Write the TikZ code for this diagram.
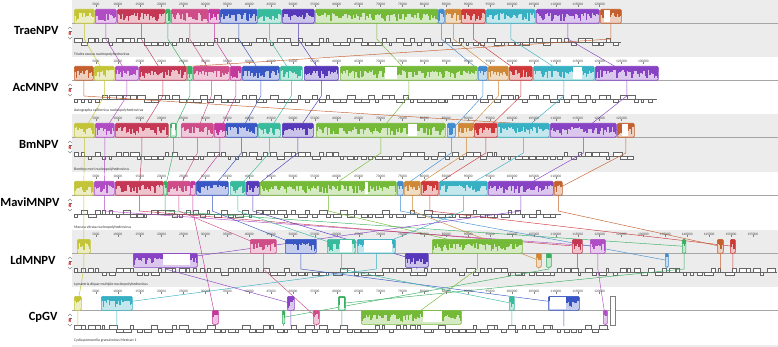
\documentclass[tikz,border=0pt]{standalone}
\usepackage{fontspec}
\setmainfont{Carlito}
\pgfdeclarelayer{back}
\pgfdeclarelayer{links}
\pgfsetlayers{back,links,main}
\definecolor{cyel}{RGB}{196,196,56}
\definecolor{cpur}{RGB}{176,76,196}
\definecolor{ccrim}{RGB}{196,56,86}
\definecolor{cgrn}{RGB}{56,176,96}
\definecolor{cpnk}{RGB}{206,76,136}
\definecolor{cmag}{RGB}{196,56,156}
\definecolor{cblu}{RGB}{56,86,196}
\definecolor{ctea}{RGB}{56,186,156}
\definecolor{cvio}{RGB}{86,56,186}
\definecolor{clgr}{RGB}{116,186,56}
\definecolor{clbl}{RGB}{66,140,206}
\definecolor{corg}{RGB}{206,136,56}
\definecolor{cred}{RGB}{206,56,56}
\definecolor{ccya}{RGB}{56,176,196}
\definecolor{cppl}{RGB}{136,66,196}
\definecolor{cbrn}{RGB}{196,96,46}
\definecolor{panelgray}{RGB}{236,236,236}
\begin{document}
\begin{tikzpicture}[x=1pt,y=-1pt]
  \tikzset{lcb/.style={draw=#1, fill=#1!30, line width=0.6pt, rounded corners=1.2pt,
      inner sep=0pt, minimum height=14pt, anchor=north west,
      path picture={\foreach \i in {0,1.5,...,\w}
        \fill[#1, sharp corners] ([xshift=\i]path picture bounding box.north west) rectangle ++(1.6,{4+8*rnd^1.5});}}}
  \tikzset{link/.style={draw=#1, line width=0.45pt}}
  \tikzset{gene/.style={draw=black!60, fill=white, line width=0.3pt}}
  \tikzset{midline/.style={draw=black!35, line width=0.4pt}}
  \tikzset{genome/.style={anchor=east, font=\bfseries\fontsize{12.5}{14}\selectfont}}
  \tikzset{species/.style={anchor=west, inner sep=0pt, text=black!80, font=\fontsize{3.8}{4}\selectfont}}
  \tikzset{tick/.style={inner sep=0pt, text=black!75, font=\fontsize{3.5}{4}\selectfont}}
  \tikzset{ctrl/.style={draw=black!45, line width=0.5pt}}
  \pgfmathsetseed{17}
  \useasboundingbox (0,0) rectangle (778,347);

  % panels, centre lines, gene rows
  \begin{pgfonlayer}{back}
    \fill[panelgray] (72,0) rectangle (778,57);
    \fill[panelgray] (72,114) rectangle (778,172);
    \fill[panelgray] (72,230) rectangle (778,287);
    \fill[panelgray] (72,345) rectangle (778,347);
    \foreach \t in {9,66,123,181,239,296}
      \draw[midline] (72,\t+14) -- (778,\t+14);
    \foreach \t/\e in {9/616, 66/652, 123/628, 181/556, 239/772, 296/604} {
      \draw[gene] (74,\t+33) -- (\e+5,\t+33);
      \foreach \x in {74,81,...,\e} {
        \pgfmathsetmacro\gw{2+7*rnd}
        \pgfmathsetmacro\gs{rnd>0.5 ? 3.5 : -3.5}
        \draw[gene] (\x,\t+33) rectangle ++(\gw,\gs);
      }
    }
  \end{pgfonlayer}

  % rulers
  \foreach \t/\n in {9/24, 66/26, 123/25, 181/22, 239/31, 296/24}
    \foreach \k in {1,...,\n} {
      \node[tick] (tk\t-\k) at (74+21.9*\k,\t-5) {\the\numexpr 5000*\k\relax};
      \draw[black!50, line width=0.3pt] (tk\t-\k.south) -- ++(0,2);
    }

  % genome names and strand marks
  \node[genome] (trae) at (62,30) {TraeNPV};
  \node[genome] (acm) at (62,87) {AcMNPV};
  \node[genome] (bm) at (62,144) {BmNPV};
  \node[genome] (mavi) at (63,202) {MaviMNPV};
  \node[genome] (ldm) at (59,260) {LdMNPV};
  \node[genome] (cpgv) at (61,317) {CpGV};
  \foreach \t in {9,66,123,181,239,296} {
    \draw[ctrl] (68,\t+20) -- (70,\t+18) -- (72,\t+20);
    \draw[black!55, line width=0.6pt] (68.5,\t+22) -- (71.5,\t+22);
    \node[inner sep=0pt, text=red!75!black, font=\bfseries\fontsize{5}{5}\selectfont] (rk\t) at (70,\t+25) {R};
    \draw[ctrl] (68,\t+28) -- (70,\t+30) -- (72,\t+28);
  }

  % species
  \node[species] (sp1) at (74,54) {Trioles sexcus nucleopolyhedrovirus};
  \node[species] (sp2) at (74,111) {Autographa californica nucleopolyhedrovirus};
  \node[species] (sp3) at (74,169) {Bombyx mori nucleopolyhedrovirus};
  \node[species] (sp4) at (74,227) {Maruca vitrata nucleopolyhedrovirus};
  \node[species] (sp5) at (74,284) {Lymantria dispar multiple nucleopolyhedrovirus};
  \node[species] (sp6) at (74,341) {Cydia pomonella granulovirus Mexican 1};

  % blocks
  \foreach \x/\w/\col/\n in {74/20/cyel/Y, 95/21/cpur/Pu, 117/48/ccrim/Cr, 165/5/cgrn/G,
      171/37/cpnk/Pk, 208/12/cmag/Mg, 220/37/cblu/Bl, 257/24/ctea/Te, 282/32/cvio/Vi,
      315/123/clgr/Lg, 438/6/clbl/Lb, 445/16/corg/Or, 461/24/cred/Rd, 486/49/ccya/Cy,
      536/63/cppl/Pv, 600/21/cbrn/Br}
    \node[lcb=\col, minimum width=\w] (\n1) at (\x,9) {};
  \foreach \x/\w/\col/\n in {74/19/cbrn/Br, 94/20/cyel/Y, 115/23/cpur/Pu, 139/47/ccrim/Cr,
      187/5/cgrn/G, 193/36/cpnk/Pk, 230/11/cmag/Mg, 242/37/cblu/Bl, 280/22/ctea/Te,
      304/34/cvio/Vi, 340/137/clgr/Lg, 478/9/clbl/Lb, 488/20/corg/Or, 509/23/cred/Rd,
      533/61/ccya/Cy, 595/63/cppl/Pv}
    \node[lcb=\col, minimum width=\w] (\n2) at (\x,66) {};
  \foreach \x/\w/\col/\n in {74/20/cyel/Y, 95/19/cpur/Pu, 115/53/ccrim/Cr, 170/6/cgrn/G,
      181/32/cpnk/Pk, 214/11/cmag/Mg, 225/32/cblu/Bl, 258/22/ctea/Te, 282/31/cvio/Vi,
      316/129/clgr/Lg, 447/8/clbl/Lb, 458/16/corg/Or, 474/23/cred/Rd, 497/52/ccya/Cy,
      550/66/cppl/Pv, 617/17/cbrn/Br}
    \node[lcb=\col, minimum width=\w] (\n3) at (\x,123) {};
  \foreach \x/\w/\col/\n in {74/19/cyel/Y, 94/20/cpur/Pu, 115/48/ccrim/Cr, 163/3.5/cgrn/G,
      167/23/cpnk/Pk, 190/5/cmag/Mg, 196/32/cblu/Bl, 230/15/ctea/Te, 246/13/cvio/Vi,
      260/136/clgr/Lg, 397/6/clbl/Lb, 404/16/corg/Or, 421/17/cred/Rd, 439/48/ccya/Cy,
      488/65/cppl/Pv, 554/8/cbrn/Br}
    \node[lcb=\col, minimum width=\w] (\n4) at (\x,181) {};
  \foreach \x/\w/\col/\n/\o in {77/13/cyel/Y/0, 133/64/cppl/Pv/14, 250/26/cpnk/Pk/0,
      285/31/cblu/Bl/0, 327/28/ctea/Te/0, 357/38/ccya/Cy/0, 405/23/cvio/Vi/14,
      432/90/clgr/Lg/0, 536/5/corg/Or/14, 546/5/cgrn/Ga/14, 572/10/ccrim/Cr/0,
      590/15/cpur/Pu/0, 665/3/clbl/Lb/14, 682/3.5/cgrn/G/0, 717/6/cbrn/Br/0, 730/5/cred/Rd/0}
    \node[lcb=\col, minimum width=\w] (\n5) at (\x,239+\o) {};
  \foreach \x/\w/\col/\n/\o in {74/7/cyel/Y/0, 101/31/ccya/Cy/0, 212/6/cmag/Mg/14,
      282/2.5/cgrn/Ga/14, 287/7/cppl/Pv/0, 313/6/cpnk/Pk/14, 338/7/cgrn/G/0,
      361/100/clgr/Lg/14, 509/5/ctea/Te/0, 548/31/cblu/Bl/0, 603/4/cpur/Pu/14}
    \node[lcb=\col, minimum width=\w] (\n6) at (\x,296+\o) {};
  \node[draw=black!50, fill=white, line width=0.5pt, inner sep=0pt, minimum width=5,
    minimum height=29, anchor=north west] (endbox) at (610,296) {};

  % unaligned stretches inside blocks
  \foreach \a/\b/\c/\d in {604/610/10/22, 385/397/67/79, 573/582/67/79, 408/417/124/136,
      171.5/174.5/124.5/135.5, 622/628/124/136, 365/368/182/194, 163/190/254/265,
      364/392/240/252, 340/352/240/252, 550/566/297/309, 339.5/343.5/297.5/308.5,
      423/442/311/322}
    \fill[white] (\a,\c) rectangle (\b,\d);

  % connectors between matching blocks
  \coordinate (g1) at (0,39);
  \coordinate (g2) at (0,96);
  \coordinate (g3) at (0,153);
  \coordinate (g4) at (0,211);
  \coordinate (g5) at (0,269);
  \coordinate (g6) at (0,326);
  \begin{pgfonlayer}{links}
    \draw[link=cyel] (Y1.center) -- (Y1 |- g1) -- (Y2.center) -- (Y2 |- g2) -- (Y3.center) -- (Y3 |- g3)
      -- (Y4.center) -- (Y4 |- g4) -- (Y5.center) -- (Y5 |- g5) -- (Y6.center) -- (Y6 |- g6);
    \draw[link=cpur] (Pu1.center) -- (Pu1 |- g1) -- (Pu2.center) -- (Pu2 |- g2) -- (Pu3.center) -- (Pu3 |- g3)
      -- (Pu4.center) -- (Pu4 |- g4) -- (Pu5.center) -- (Pu5 |- g5) -- (Pu6.center) -- (Pu6 |- g6);
    \draw[link=ccrim] (Cr1.center) -- (Cr1 |- g1) -- (Cr2.center) -- (Cr2 |- g2) -- (Cr3.center) -- (Cr3 |- g3)
      -- (Cr4.center) -- (Cr4 |- g4) -- (Cr5.center) -- (Cr5 |- g5);
    \draw[link=cgrn] (G1.center) -- (G1 |- g1) -- (G2.center) -- (G2 |- g2) -- (G3.center) -- (G3 |- g3)
      -- (G4.center) -- (G4 |- g4) -- (G5.center) -- (G5 |- g5) -- (G6.center) -- (G6 |- g6);
    \draw[link=cgrn] (Ga5.center) -- (Ga5 |- g5) -- (Ga6.center) -- (Ga6 |- g6);
    \draw[link=cpnk] (Pk1.center) -- (Pk1 |- g1) -- (Pk2.center) -- (Pk2 |- g2) -- (Pk3.center) -- (Pk3 |- g3)
      -- (Pk4.center) -- (Pk4 |- g4) -- (Pk5.center) -- (Pk5 |- g5) -- (Pk6.center) -- (Pk6 |- g6);
    \draw[link=cmag] (Mg1.center) -- (Mg1 |- g1) -- (Mg2.center) -- (Mg2 |- g2) -- (Mg3.center) -- (Mg3 |- g3)
      -- (Mg4.center) -- (Mg4 |- g4) -- (Mg6.center) -- (Mg6 |- g6);
    \draw[link=cblu] (Bl1.center) -- (Bl1 |- g1) -- (Bl2.center) -- (Bl2 |- g2) -- (Bl3.center) -- (Bl3 |- g3)
      -- (Bl4.center) -- (Bl4 |- g4) -- (Bl5.center) -- (Bl5 |- g5) -- (Bl6.center) -- (Bl6 |- g6);
    \draw[link=ctea] (Te1.center) -- (Te1 |- g1) -- (Te2.center) -- (Te2 |- g2) -- (Te3.center) -- (Te3 |- g3)
      -- (Te4.center) -- (Te4 |- g4) -- (Te5.center) -- (Te5 |- g5) -- (Te6.center) -- (Te6 |- g6);
    \draw[link=cvio] (Vi1.center) -- (Vi1 |- g1) -- (Vi2.center) -- (Vi2 |- g2) -- (Vi3.center) -- (Vi3 |- g3)
      -- (Vi4.center) -- (Vi4 |- g4) -- (Vi5.center) -- (Vi5 |- g5);
    \draw[link=clgr] (Lg1.center) -- (Lg1 |- g1) -- (Lg2.center) -- (Lg2 |- g2) -- (Lg3.center) -- (Lg3 |- g3)
      -- (Lg4.center) -- (Lg4 |- g4) -- (Lg5.center) -- (Lg5 |- g5) -- (Lg6.center) -- (Lg6 |- g6);
    \draw[link=clbl] (Lb1.center) -- (Lb1 |- g1) -- (Lb2.center) -- (Lb2 |- g2) -- (Lb3.center) -- (Lb3 |- g3)
      -- (Lb4.center) -- (Lb4 |- g4) -- (Lb5.center) -- (Lb5 |- g5);
    \draw[link=corg] (Or1.center) -- (Or1 |- g1) -- (Or2.center) -- (Or2 |- g2) -- (Or3.center) -- (Or3 |- g3)
      -- (Or4.center) -- (Or4 |- g4) -- (Or5.center) -- (Or5 |- g5);
    \draw[link=cred] (Rd1.center) -- (Rd1 |- g1) -- (Rd2.center) -- (Rd2 |- g2) -- (Rd3.center) -- (Rd3 |- g3)
      -- (Rd4.center) -- (Rd4 |- g4) -- (Rd5.center) -- (Rd5 |- g5);
    \draw[link=ccya] (Cy1.center) -- (Cy1 |- g1) -- (Cy2.center) -- (Cy2 |- g2) -- (Cy3.center) -- (Cy3 |- g3)
      -- (Cy4.center) -- (Cy4 |- g4) -- (Cy5.center) -- (Cy5 |- g5) -- (Cy6.center) -- (Cy6 |- g6);
    \draw[link=cppl] (Pv1.center) -- (Pv1 |- g1) -- (Pv2.center) -- (Pv2 |- g2) -- (Pv3.center) -- (Pv3 |- g3)
      -- (Pv4.center) -- (Pv4 |- g4) -- (Pv5.center) -- (Pv5 |- g5) -- (Pv6.center) -- (Pv6 |- g6);
    \draw[link=cbrn] (Br1.center) -- (Br1 |- g1) -- (Br2.center) -- (Br2 |- g2) -- (Br3.center) -- (Br3 |- g3)
      -- (Br4.center) -- (Br4 |- g4) -- (Br5.center) -- (Br5 |- g5);
  \end{pgfonlayer}
\end{tikzpicture}
\end{document}
